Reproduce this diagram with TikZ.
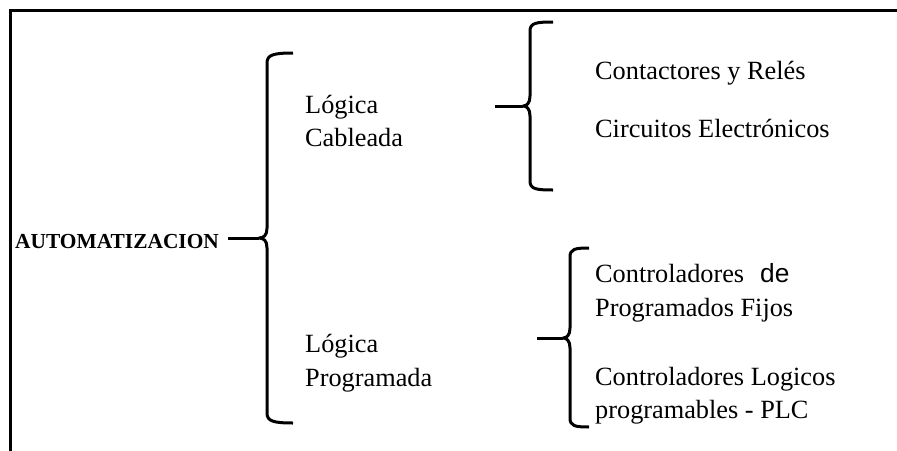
\documentclass[tikz,border=0pt]{standalone}
\usepackage{fontspec}
\setmainfont{Liberation Serif}
\newfontfamily\desans{Liberation Sans}
\begin{document}
\begin{tikzpicture}[x=1pt,y=-1pt,
  txt/.style={anchor=base west,inner sep=0pt,font=\fontsize{26.3}{31}\selectfont},
  frameline/.style={line width=2.7pt},
  bracel/.style={line width=3pt,line join=round},
  conn/.style={line width=3pt}]
\useasboundingbox (0,0) rectangle (897,450);
% frame
\draw[frameline] (10.5,452) -- (10.5,10.5) -- (899,10.5);
% texts
\node[anchor=base west,inner sep=0pt,font=\fontsize{21.4}{25}\selectfont\bfseries] (auto) at (15,248) {AUTOMATIZACION};
\node[txt] (lc1) at (305,113) {Lógica};
\node[txt] (lc2) at (305,146) {Cableada};
\node[txt] (lp1) at (305,352) {Lógica};
\node[txt] (lp2) at (305,386) {Programada};
\node[txt] (cr) at (595,79) {Contactores y Relés};
\node[txt] (ce) at (595,137) {Circuitos Electrónicos};
\node[txt] (f1) at (595,282) {Controladores\hspace{16pt}{\desans de}};
\node[txt] (f2) at (595,316) {Programados Fijos};
\node[txt] (p1) at (595,385) {Controladores Logicos};
\node[txt] (p2) at (595,418) {programables - PLC};
% brace tips and free ends
\coordinate (t1) at (259,238);
\coordinate (t2) at (523,106);
\coordinate (s2) at (495,106);
\coordinate (t3) at (563,338);
\coordinate (s3) at (537,338);
% brace 1
\draw[bracel] (293,53) .. controls (273,53) and (267,55) .. (267,63)
  -- (267,228) .. controls (267,235) and (264,238) .. (t1)
  .. controls (264,238) and (267,241) .. (267,248)
  -- (267,413) .. controls (267,421) and (273,423) .. (293,423);
% brace 2
\draw[bracel] (553,22) .. controls (536,22) and (530,23) .. (530,31)
  -- (530,96) .. controls (530,103) and (527,106) .. (t2)
  .. controls (527,106) and (530,109) .. (530,116)
  -- (530,181) .. controls (530,189) and (536,190) .. (553,190);
% brace 3
\draw[bracel] (589,248) .. controls (575,248) and (570,249) .. (570,257)
  -- (570,328) .. controls (570,335) and (567,338) .. (t3)
  .. controls (567,338) and (570,341) .. (570,348)
  -- (570,418) .. controls (570,426) and (575,427) .. (589,427);
% connectors
\draw[conn] ([xshift=9pt]auto.east |- t1) -- (t1);
\draw[conn] (s2) -- (t2);
\draw[conn] (s3) -- (t3);
\end{tikzpicture}
\end{document}
